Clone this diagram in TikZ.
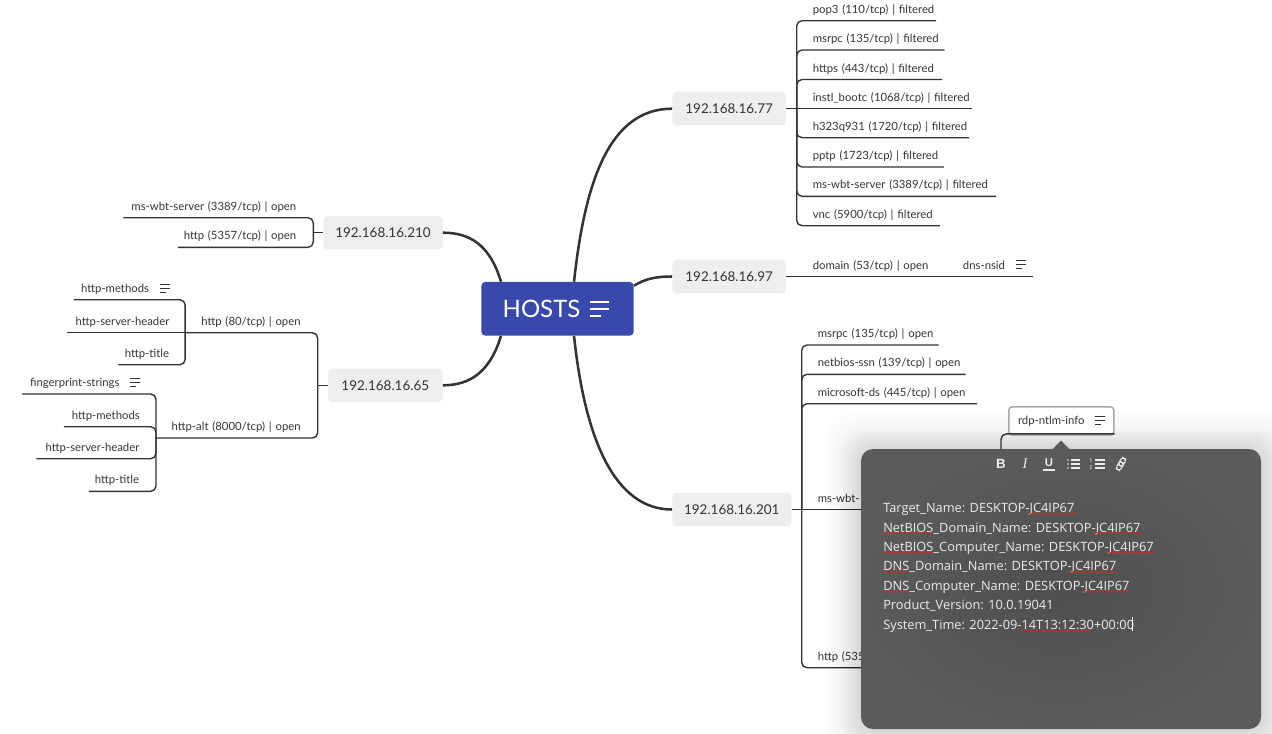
\documentclass[tikz,border=0pt]{standalone}
\usepackage{fontspec}
\setmainfont{Lato}
\newfontfamily\popfont{Open Sans}
\newfontfamily\tbfont{Liberation Sans}
\newfontfamily\tbserif{Liberation Serif}
\usetikzlibrary{decorations.pathmorphing}
\definecolor{ink}{HTML}{333333}
\definecolor{txt}{HTML}{333333}
\definecolor{hubblue}{HTML}{3949AB}
\definecolor{hostbg}{HTML}{EEEEEE}
\definecolor{popa}{HTML}{4E504F}
\definecolor{popb}{HTML}{5A5C5B}
\definecolor{poptxt}{HTML}{EBEBEB}
\definecolor{squig}{HTML}{D8262A}
\newlength\upx
\setlength\upx{.75pt}
\tikzset{
  conn/.style={draw=ink,line width=1.05pt,rounded corners=4pt},
  trunk/.style={draw=ink,line width=1.9pt},
  hostnode/.style={fill=hostbg,rounded corners=3pt,text=txt,font=\fontsize{10.1}{13}\selectfont,inner sep=0pt},
  leaftext/.style={inner sep=0pt,text=txt,font=\fontsize{8.5}{10}\selectfont,text height=8pt,text depth=5.35pt},
  tbicon/.style={draw=poptxt,line width=.8pt},
  squiggle/.style={draw=squig,line width=.5pt,decorate,decoration={snake,amplitude=.55pt,segment length=2.4pt}}
}
% right-side leaf: name, x start, x end, y of underline, text padding, text
\newcommand\leafR[6]{\node[leaftext,anchor=south west,text width=(#3-#2)*.75pt,align=left] (#1) at (#2,#4) {\hspace*{#5\upx}#6};}
% left-side leaf: name, x start, x end, y of underline, text padding, text
\newcommand\leafL[6]{\node[leaftext,anchor=south east,text width=(#3-#2)*.75pt,align=right] (#1) at (#3,#4) {#6\hspace*{#5\upx}};}
\newcommand\noteicon[4]{\draw[#3,line width=#4] (#1,#2-4) -- ++(10,0) (#1,#2) -- ++(10,0) (#1,#2+4) -- ++(6,0);}
\begin{document}
\begin{tikzpicture}[x=.75pt,y=-.75pt]
\useasboundingbox (0,0) rectangle (1272,733);
\clip (0,0) rectangle (1272,733);

% hub and hosts
\node[fill=hubblue,rounded corners=3pt,minimum width=152.4*.75pt,minimum height=53.7*.75pt,inner sep=0pt,text=white,font=\fontsize{18}{20}\selectfont] (hub) at (557.5,308.8) {HOSTS\hspace*{24pt}};
\node[hostnode,minimum width=113.7*.75pt,minimum height=33.5*.75pt] (n77) at (729.2,108.7) {192.168.16.77};
\node[hostnode,minimum width=113.7*.75pt,minimum height=33.5*.75pt] (n97) at (729.2,276.5) {192.168.16.97};
\node[hostnode,minimum width=119*.75pt,minimum height=33.5*.75pt] (n201) at (731.8,509.5) {192.168.16.201};
\node[hostnode,minimum width=119.4*.75pt,minimum height=33.3*.75pt] (n210) at (383,232.7) {192.168.16.210};
\node[hostnode,minimum width=114.7*.75pt,minimum height=33.3*.75pt] (n65) at (385.3,385.3) {192.168.16.65};

\draw[trunk] ([xshift=12.4pt]hub.north) .. controls (585,180) and (610,108.7) .. (n77.west);
\draw[trunk] ([yshift=-3pt]hub.north east) .. controls (645,279) and (655,276.5) .. (n97.west);
\draw[trunk] ([xshift=12.4pt]hub.south) .. controls (585,440) and (615,509.5) .. (n201.west);
\draw[trunk] ([xshift=-42.4pt]hub.north) .. controls (490,245) and (470,232.7) .. (n210.east);
\draw[trunk] ([xshift=-42.4pt]hub.south) .. controls (490,372) and (470,385.3) .. (n65.east);

% 192.168.16.77
\coordinate (s77) at (796.7,108.7);
\leafR{a}{796.7}{935.7}{20.7}{15.8}{pop3 (110/tcp) | filtered}
\leafR{b}{796.7}{944}{50}{15.8}{msrpc (135/tcp) | filtered}
\leafR{c}{796.7}{941.7}{79.5}{15.8}{https (443/tcp) | filtered}
\leafR{d}{796.7}{971.7}{108.7}{15.8}{instl\_bootc (1068/tcp) | filtered}
\leafR{e}{796.7}{968.7}{137.7}{15.8}{h323q931 (1720/tcp) | filtered}
\leafR{f}{796.7}{943.3}{167}{15.8}{pptp (1723/tcp) | filtered}
\leafR{g}{796.7}{995.7}{196.3}{15.8}{ms-wbt-server (3389/tcp) | filtered}
\leafR{h}{796.7}{939.3}{225.7}{15.8}{vnc (5900/tcp) | filtered}
\draw[conn] (n77.east) -- (d.south west) -- (d.south east);
\foreach \k in {a,b,c,e,f,g,h} \draw[conn] (s77) |- (\k.south east);

% 192.168.16.97
\leafR{dom}{786}{945}{276.5}{26.5}{domain (53/tcp) | open}
\leafR{nsid}{945}{1032}{276.5}{17.7}{dns-nsid}
\draw[conn] (n97.east) -- (dom.south west) -- (dom.south east) -- (nsid.south east);
\noteicon{1016}{264.5}{ink}{.7pt}

% 192.168.16.201
\coordinate (s201) at (801.7,509.5);
\leafR{m}{801.7}{938}{345}{15.8}{msrpc (135/tcp) | open}
\leafR{n}{801.7}{965}{374.3}{15.8}{netbios-ssn (139/tcp) | open}
\leafR{o}{801.7}{976.7}{403.7}{15.8}{microsoft-ds (445/tcp) | open}
\leafR{p}{801.7}{900}{509.5}{15.8}{ms-wbt-}
\leafR{q}{801.7}{900}{667.7}{15.8}{http (535}
\draw[conn] (n201.east) -- (p.south west) -- (p.south east);
\foreach \k in {m,n,o,q} \draw[conn] (s201) |- (\k.south east);

% 192.168.16.210
\coordinate (s210) at (313.3,232.7);
\leafL{r}{124}{313.3}{217.7}{16.8}{ms-wbt-server (3389/tcp) | open}
\leafL{s}{178.3}{313.3}{247.3}{16.8}{http (5357/tcp) | open}
\draw[conn] (n210.west) -- (s210);
\foreach \k in {r,s} \draw[conn] (s210) |- (\k.south west);

% 192.168.16.65
\coordinate (s65) at (317.7,385.3);
\leafL{ha}{185.7}{317.7}{332.7}{16.8}{http (80/tcp) | open}
\leafL{hb}{156}{317.7}{438}{16.8}{http-alt (8000/tcp) | open}
\draw[conn] (n65.west) -- (s65);
\foreach \k in {ha,hb} \draw[conn] (s65) |- (\k.south west);
\leafL{h1}{74.3}{185.7}{299.7}{36.4}{http-methods}
\leafL{h2}{67.3}{185.7}{332.7}{16}{http-server-header}
\leafL{h3}{119}{185.7}{364.7}{16.4}{http-title}
\draw[conn] (ha.south west) -- (h2.south west);
\draw[conn] (ha.south west) |- (h1.south west);
\draw[conn] (ha.south west) |- (h3.south west);
\noteicon{159.5}{288}{ink}{.7pt}
\leafL{k1}{22.7}{156}{394}{36.3}{fingerprint-strings}
\leafL{k2}{64.3}{156}{426.7}{16}{http-methods}
\leafL{k3}{37}{156}{458.7}{16.3}{http-server-header}
\leafL{k4}{89.3}{156}{491.3}{16.7}{http-title}
\coordinate (j) at (156,438);
\foreach \k in {k1,k2,k3,k4} \draw[conn] (j) |- (\k.south west);
\noteicon{129.5}{382}{ink}{.7pt}

% soft shadow of the popup
\foreach \i in {40,38,...,22}
  \fill[black,opacity=.004,rounded corners=26pt] (861-\i,449-\i) rectangle (1261+\i,729+\i);
\foreach \i in {20,18,...,2}
  \fill[black,opacity=.012,rounded corners=16pt] (861-\i,449-\i) rectangle (1261+\i,729+\i);

% rdp-ntlm-info
\node[draw=gray!70,fill=white,line width=1.1pt,rounded corners=2.5pt,minimum width=105*.75pt,minimum height=28.4*.75pt,inner sep=0pt,text=txt,font=\fontsize{8.5}{10}\selectfont] (rdp) at (1061.3,421) {rdp-ntlm-info\hspace*{15pt}};
\noteicon{1095}{420}{ink}{.7pt}
\draw[conn] (1001,455) |- ([yshift=1.5pt]rdp.south east);

% popup
\fill[popb] (1052,449.5) -- (1061,440.5) -- (1070,449.5) -- cycle;
\node[rounded corners=9pt,inner sep=0pt,minimum width=400*.75pt,minimum height=280*.75pt,inner color=popa,outer color=popb] (popup) at (1061,589) {};

% toolbar
\node[text=poptxt,font=\tbfont\bfseries\fontsize{10}{10}\selectfont,inner sep=0pt] (tb) at (1001,464) {B};
\node[text=poptxt,font=\tbserif\itshape\fontsize{11}{11}\selectfont,inner sep=0pt] (ti) at (1025,464) {I};
\node[text=poptxt,font=\tbfont\bfseries\fontsize{8.5}{10}\selectfont,inner sep=0pt] (tu) at (1049,463) {U};
\draw[tbicon] (1043,470) -- (1055,470);
\foreach \y in {460,464,468}{
  \fill[poptxt] (1068,\y) circle (.7pt);
  \draw[tbicon] (1071,\y) -- (1080,\y);
  \draw[tbicon] (1095,\y) -- (1105,\y);
}
\node[text=poptxt,font=\fontsize{4}{4}\selectfont,inner sep=0pt] (t1) at (1091,460.5) {1};
\node[text=poptxt,font=\fontsize{4}{4}\selectfont,inner sep=0pt] (t2) at (1091,467.5) {2};
\draw[tbicon,rotate around={60:(1121,464)},rounded corners=2pt] (1114.5,461.5) rectangle (1123,466.5);
\draw[tbicon,rotate around={60:(1121,464)},rounded corners=2pt] (1119,461.5) rectangle (1127.5,466.5);

% note text
\node[anchor=north west,align=left,inner sep=0pt,text=poptxt,font=\popfont\fontsize{9.6}{14.6}\selectfont] (note) at (883,503) {Target\_Name: DESKTOP-JC4IP67\\NetBIOS\_Domain\_Name: DESKTOP-JC4IP67\\NetBIOS\_Computer\_Name: DESKTOP-JC4IP67\\DNS\_Domain\_Name: DESKTOP-JC4IP67\\DNS\_Computer\_Name: DESKTOP-JC4IP67\\Product\_Version: 10.0.19041\\System\_Time: 2022-09-14T13:12:30+00:00};
\draw[squiggle] (1029,513.5) -- (1077,513.5);
\draw[squiggle] (883,533) -- (933,533);
\draw[squiggle] (1093,533) -- (1141.6,533);
\draw[squiggle] (883,552.5) -- (933,552.5);
\draw[squiggle] (1107,552.5) -- (1155,552.5);
\draw[squiggle] (883,572) -- (909,572);
\draw[squiggle] (1069,572) -- (1117,572);
\draw[squiggle] (883,591.5) -- (909,591.5);
\draw[squiggle] (1082.7,591.5) -- (1130,591.5);
\draw[squiggle] (1020,630.7) -- (1092,630.7);
\draw[white,line width=.7pt] (1132.7,617) -- (1132.7,631);

% hub icon
\draw[white,line width=1.2pt] (590,302) -- ++(19,0) (590,309) -- ++(19,0) (590,316) -- ++(11,0);
\end{tikzpicture}
\end{document}
